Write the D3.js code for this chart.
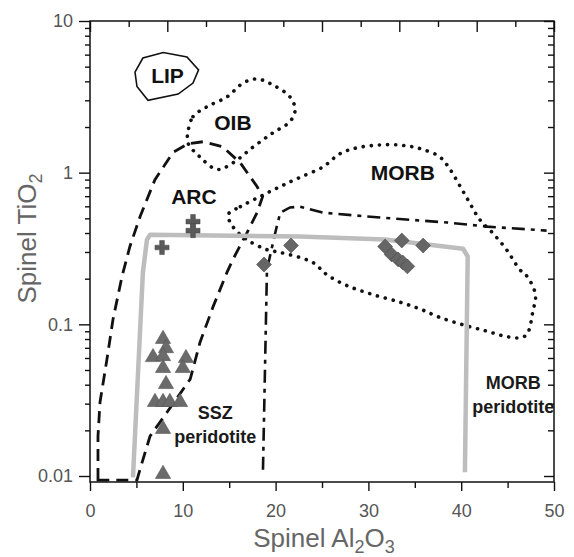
<!DOCTYPE html>
<html>
<head>
<meta charset="utf-8">
<script src="https://cdn.jsdelivr.net/npm/d3@7"></script>
<style>
  body { margin: 0; background: #fff; }
  svg { display: block; }
</style>
</head>
<body>
<script>
// spinel TiO2 vs Al2O3 discrimination plot

let width = 574
let height = 557
let margin = ({top: 21, right: 20, bottom: 75, left: 90})
let font = "'Liberation Sans', Arial, Helvetica, sans-serif"

// axis ticks
let xTicks = [0, 10, 20, 30, 40, 50]
let xMinorTicks = [5, 15, 25, 35, 45]
let topTicks = [0, 4.17, 8.33, 12.5, 16.67, 20.83, 25, 29.17, 33.33, 37.5, 41.67, 45.83, 50]
let yTicks = [0.01, 0.1, 1, 10]
let yTickLabels = ["0.01", "0.1", "1", "10"]

// field outlines [Al2O3, TiO2]
let lipField = [[4.85, 4.6], [5.7, 5.7], [7.9, 6.2], [10.45, 5.8], [11.7, 4.76], [11.1, 3.9], [9.5, 3.3], [6.25, 3.0], [5.06, 3.7]]
let oibField = [[10.56, 1.86], [11.1, 2.34], [12.6, 2.72], [14.76, 3.16], [16.5, 3.9], [18.0, 4.15], [19.7, 3.79], [21.55, 3.16],
  [22.1, 2.6], [21.55, 2.17], [19.7, 1.83], [17.6, 1.48], [15.4, 1.16], [13.7, 1.05], [11.85, 1.27], [10.56, 1.57]]
let arcField = [[0.86, 0.0094], [0.86, 0.0183], [1.08, 0.0307], [1.83, 0.059], [2.48, 0.108], [3.45, 0.207], [4.3, 0.326],
  [5.4, 0.514], [7.0, 0.9], [8.94, 1.36], [10.56, 1.55], [12.2, 1.6], [14.3, 1.48], [16.2, 1.16], [18.0, 0.81], [18.6, 0.695],
  [18.0, 0.545], [16.9, 0.40], [15.4, 0.268], [14.76, 0.22], [13.25, 0.13], [11.85, 0.076], [10.8, 0.0435], [8.3, 0.0263],
  [6.47, 0.0183], [5.4, 0.0111], [5.06, 0.0094]]
let morbField = [[14.9, 0.53], [16.2, 0.597], [18.3, 0.695], [20.5, 0.81], [22.6, 0.93], [25.1, 1.09], [26.9, 1.33], [28.8, 1.46],
  [32.0, 1.53], [34.2, 1.5], [35.9, 1.42], [37.7, 1.27], [38.8, 1.05], [39.9, 0.81], [40.9, 0.635], [42.0, 0.49], [43.4, 0.40],
  [44.9, 0.31], [46.3, 0.23], [47.1, 0.207], [48.0, 0.157], [47.7, 0.12], [47.2, 0.0886], [46.6, 0.082], [44.9, 0.083],
  [42.8, 0.09], [40.4, 0.0985], [37.7, 0.111], [35.6, 0.126], [33.4, 0.14], [30.5, 0.157], [27.7, 0.18], [25.5, 0.213],
  [24.0, 0.256], [20.5, 0.298], [19.1, 0.31], [16.9, 0.362], [15.4, 0.44]]
let dashDotLine = [[18.64, 0.011], [19.07, 0.23], [20.04, 0.42], [20.5, 0.545], [21.55, 0.59], [22.6, 0.597], [25.1, 0.545],
  [31.25, 0.506], [38.5, 0.469], [42.8, 0.441], [49.2, 0.415]]
let peridotiteLine = [[4.63, 0.0098], [5.7, 0.22], [6.14, 0.362], [6.47, 0.39], [22.6, 0.38], [31.8, 0.362], [40.2, 0.315],
  [40.7, 0.28], [40.4, 0.0106]]

// samples
let arcSamples = [[7.76, 0.321], [11.1, 0.476], [11.1, 0.415]]
let morbSamples = [[18.75, 0.248], [21.66, 0.331], [31.8, 0.326], [33.6, 0.357], [35.9, 0.331], [32.5, 0.289], [33.2, 0.268],
  [33.7, 0.256], [34.2, 0.241]]
let sszSamples = [[7.87, 0.080], [8.19, 0.0695], [6.79, 0.0607], [7.87, 0.0616], [10.34, 0.0598], [7.87, 0.0514], [10.0, 0.0514],
  [8.19, 0.0403], [7.0, 0.0307], [7.87, 0.0307], [8.6, 0.0307], [9.7, 0.0307], [7.87, 0.0204], [7.87, 0.0103]]

// labels
let fieldLabels = [["LIP", 8.35, 4.36], ["OIB", 15.4, 2.13], ["ARC", 11.2, 0.695], ["MORB", 33.7, 1.0]]
let peridotiteLabels = [["SSZ", 13.5, 0.0263], ["peridotite", 13.5, 0.0183], ["MORB", 45.6, 0.0413], ["peridotite", 45.6, 0.0287]]

let x = d3.scaleLinear()
  .domain([0, 50])
  .range([margin.left, width - margin.right])

let y = d3.scaleLog()
  .domain([0.00913, 10])
  .range([height - margin.bottom, margin.top])

let svg = d3.select("body").append("svg")
  .attr("width", width)
  .attr("height", height)

let line = d3.line().x(d => x(d[0])).y(d => y(d[1]))

// fields
svg.append("path")
  .attr("d", line.curve(d3.curveLinearClosed)(lipField))
  .attr("fill", "none").attr("stroke", "#111").attr("stroke-width", 1.6)

svg.append("path")
  .attr("d", line.curve(d3.curveCatmullRomClosed)(oibField))
  .attr("fill", "none").attr("stroke", "#111").attr("stroke-width", 3.6)
  .attr("stroke-linecap", "round").attr("stroke-dasharray", "0.1,8")

svg.append("path")
  .attr("d", line.curve(d3.curveCatmullRomClosed)(morbField))
  .attr("fill", "none").attr("stroke", "#111").attr("stroke-width", 3.6)
  .attr("stroke-linecap", "round").attr("stroke-dasharray", "0.1,8")

svg.append("path")
  .attr("d", line.curve(d3.curveLinearClosed)(arcField))
  .attr("fill", "none").attr("stroke", "#111").attr("stroke-width", 2.8)
  .attr("stroke-dasharray", "12,7")

svg.append("path")
  .attr("d", line.curve(d3.curveLinear)(dashDotLine))
  .attr("fill", "none").attr("stroke", "#111").attr("stroke-width", 2.6)
  .attr("stroke-dasharray", "13,6,4,6")

svg.append("path")
  .attr("d", line.curve(d3.curveLinear)(peridotiteLine))
  .attr("fill", "none").attr("stroke", "#bdbdbd").attr("stroke-width", 4.5)
  .attr("stroke-linejoin", "round")

// samples
svg.selectAll(".ssz").data(sszSamples).join("path")
  .attr("transform", d => `translate(${x(d[0])},${y(d[1])})`)
  .attr("d", d3.symbol(d3.symbolTriangle, 100))
  .attr("fill", "#6b6b6b").attr("stroke", "#555").attr("stroke-width", 0.6)

svg.selectAll(".morb").data(morbSamples).join("path")
  .attr("transform", d => `translate(${x(d[0])},${y(d[1])}) rotate(45)`)
  .attr("d", d3.symbol(d3.symbolSquare, 110))
  .attr("fill", "#666").attr("stroke", "#4a4a4a").attr("stroke-width", 0.6)

svg.selectAll(".arc").data(arcSamples).join("path")
  .attr("transform", d => `translate(${x(d[0])},${y(d[1])})`)
  .attr("d", d3.symbol(d3.symbolCross, 110))
  .attr("fill", "#5a5a5a").attr("stroke", "#444").attr("stroke-width", 0.5)

// labels
svg.selectAll(".flabel").data(fieldLabels).join("text")
  .attr("x", d => x(d[1])).attr("y", d => y(d[2]))
  .attr("dy", "0.36em").attr("text-anchor", "middle")
  .attr("font-family", font).attr("font-weight", "bold").attr("font-size", 21)
  .attr("fill", "#111")
  .text(d => d[0])

svg.selectAll(".plabel").data(peridotiteLabels).join("text")
  .attr("x", d => x(d[1])).attr("y", d => y(d[2]))
  .attr("dy", "0.36em").attr("text-anchor", "middle")
  .attr("font-family", font).attr("font-weight", "bold").attr("font-size", 18)
  .attr("fill", "#1a1a1a")
  .text(d => d[0])

// axes
let bottom = height - margin.bottom
let left = margin.left
let right = width - margin.right

function styleAxis(g) {
  g.select(".domain").remove()
  g.selectAll("line").attr("stroke", "#111").attr("stroke-width", 1.4)
  g.selectAll("text").attr("font-family", font).attr("font-size", 18).attr("fill", "#555")
}

svg.append("g")
  .attr("transform", `translate(0,${bottom})`)
  .call(d3.axisBottom(x).tickValues(xTicks).tickSize(9).tickPadding(13).tickFormat(d3.format("d")))
  .call(styleAxis)

svg.append("g")
  .attr("transform", `translate(0,${bottom})`)
  .call(d3.axisBottom(x).tickValues(xMinorTicks).tickSize(6).tickFormat(""))
  .call(styleAxis)

svg.append("g")
  .attr("transform", `translate(0,${margin.top})`)
  .call(d3.axisTop(x).tickValues(topTicks.filter((d, i) => i % 2 == 0)).tickSize(-11).tickFormat(""))
  .call(styleAxis)

svg.append("g")
  .attr("transform", `translate(0,${margin.top})`)
  .call(d3.axisTop(x).tickValues(topTicks.filter((d, i) => i % 2 == 1)).tickSize(-6).tickFormat(""))
  .call(styleAxis)

let yMinor = y.ticks().filter(d => !yTicks.some(t => Math.abs(t - d) < 1e-9))

svg.append("g")
  .attr("transform", `translate(${left},0)`)
  .call(d3.axisLeft(y).tickValues(yTicks).tickSize(11).tickPadding(6).tickFormat((d, i) => yTickLabels[i]))
  .call(styleAxis)

svg.append("g")
  .attr("transform", `translate(${left},0)`)
  .call(d3.axisLeft(y).tickValues(yMinor).tickSize(5).tickFormat(""))
  .call(styleAxis)

svg.append("g")
  .attr("transform", `translate(${right},0)`)
  .call(d3.axisRight(y).tickValues(yTicks).tickSize(-10).tickFormat(""))
  .call(styleAxis)

svg.append("g")
  .attr("transform", `translate(${right},0)`)
  .call(d3.axisRight(y).tickValues(yMinor).tickSize(-6).tickFormat(""))
  .call(styleAxis)

// frame
svg.append("rect")
  .attr("x", left).attr("y", margin.top)
  .attr("width", right - left).attr("height", bottom - margin.top)
  .attr("fill", "none").attr("stroke", "#111").attr("stroke-width", 1.5)

// axis titles
let xTitle = svg.append("text")
  .attr("x", (left + right) / 2 + 2).attr("y", 547)
  .attr("text-anchor", "middle")
  .attr("font-family", font).attr("font-size", 26).attr("fill", "#666")
xTitle.append("tspan").text("Spinel Al")
xTitle.append("tspan").attr("font-size", 18).attr("dy", 6).text("2")
xTitle.append("tspan").attr("dy", -6).text("O")
xTitle.append("tspan").attr("font-size", 18).attr("dy", 6).text("3")

let yTitle = svg.append("text")
  .attr("transform", `translate(36,${(margin.top + bottom) / 2 - 13}) rotate(-90)`)
  .attr("text-anchor", "middle")
  .attr("font-family", font).attr("font-size", 26).attr("fill", "#666")
yTitle.append("tspan").text("Spinel TiO")
yTitle.append("tspan").attr("font-size", 18).attr("dy", 6).text("2")
</script>
</body>
</html>
